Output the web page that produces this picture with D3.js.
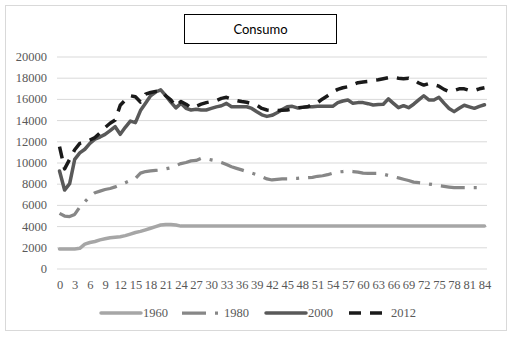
<!DOCTYPE html>
<html>
<head>
<meta charset="utf-8">
<script src="https://cdn.jsdelivr.net/npm/d3@7"></script>
<style>
  html, body { margin: 0; padding: 0; background: #fff; }
  svg { display: block; }
</style>
</head>
<body>
<svg id="chart" width="512" height="337"></svg>
<script>
// Age axis: 0..84 years
const ages = d3.range(0, 85);
const tickAges = d3.range(0, 85, 3);
const yTicks = d3.range(0, 20001, 2000);
const seriesNames = ["1960", "1980", "2000", "2012"];

const v1960 = [
  1850, 1850, 1850, 1850, 1900, 2300, 2450, 2550, 2700, 2800,
  2900, 2950, 3000, 3100, 3250, 3400, 3500, 3650, 3800, 3950,
  4100, 4150, 4150, 4100, 4000, 4000, 4000, 4000, 4000, 4000,
  4000, 4000, 4000, 4000, 4000, 4000, 4000, 4000, 4000, 4000,
  4000, 4000, 4000, 4000, 4000, 4000, 4000, 4000, 4000, 4000,
  4000, 4000, 4000, 4000, 4000, 4000, 4000, 4000, 4000, 4000,
  4000, 4000, 4000, 4000, 4000, 4000, 4000, 4000, 4000, 4000,
  4000, 4000, 4000, 4000, 4000, 4000, 4000, 4000, 4000, 4000,
  4000, 4000, 4000, 4000, 4000
];

const v1980 = [
  5200, 4950, 4900, 5100, 5800, 6300, 6800, 7150, 7300, 7450,
  7550, 7700, 7900, 8100, 8300, 8500, 9000, 9150, 9200, 9250,
  9300, 9400, 9500, 9700, 9900, 10000, 10150, 10200, 10400, 10350,
  10250, 10150, 10000, 9800, 9600, 9450, 9300, 9150, 9000, 8850,
  8650, 8450, 8350, 8400, 8450, 8450, 8500, 8500, 8550, 8570,
  8600, 8700, 8750, 8850, 9000, 9100, 9150, 9200, 9150, 9100,
  9000, 8980, 8980, 8980, 8900, 8780, 8660, 8550, 8420, 8300,
  8150, 8100, 8050, 7970, 7900, 7810, 7750, 7680, 7620, 7620,
  7620, 7620, 7620, 7620, 7620
];

const v2000 = [
  9200, 7400, 8000, 10300, 10900, 11250, 11800, 12200, 12400, 12650,
  13000, 13380, 12660, 13320, 13910, 13760, 14900, 15600, 16300, 16650,
  16850, 16300, 15700, 15150, 15580, 15110, 14950, 15020, 14950, 14950,
  15100, 15250, 15350, 15580, 15260, 15260, 15260, 15260, 15100, 14790,
  14500, 14350, 14450, 14700, 15000, 15250, 15300, 15150, 15200, 15250,
  15250, 15300, 15300, 15300, 15300, 15650, 15800, 15900, 15580, 15650,
  15650, 15550, 15420, 15480, 15500, 16000, 15580, 15170, 15360, 15170,
  15500, 15900, 16300, 15900, 15900, 16150, 15600, 15100, 14800, 15110,
  15400, 15250, 15110, 15300, 15450
];

const v2012 = [
  11500, 9400, 10300, 11200, 11800, 11900, 12120, 12350, 12800, 13300,
  13700, 14000, 15400, 15900, 16300, 16200, 15700, 16450, 16600, 16700,
  16750, 16300, 15900, 15300, 15750, 15500, 15150, 15300, 15500, 15650,
  15750, 15850, 16050, 16150, 16000, 15850, 15750, 15680, 15550, 15400,
  15100, 14950, 14900, 14900, 14920, 14950, 15050, 15150, 15200, 15250,
  15450, 15650, 16000, 16300, 16650, 16900, 17050, 17150, 17350, 17530,
  17600, 17650, 17750, 17800, 17900, 18000, 18050, 17950, 17900, 17950,
  17800, 17500, 17300, 17450, 17350, 17200, 16900, 16700, 16800, 16950,
  16950, 16800, 16800, 16950, 17050
];

const seriesValues = [v1960, v1980, v2000, v2012];

// Line styling per series
const styles = [
  { color: "#a6a6a6", width: 3.5, dash: null, cap: "round" },
  { color: "#878787", width: 3.25, dash: "24,9,3,9", cap: "butt" },
  { color: "#595959", width: 3.5, dash: null, cap: "round" },
  { color: "#1a1a1a", width: 3.5, dash: "12,9", cap: "butt" }
];

const svg = d3.select("#chart");

// Outer frame
svg.append("rect")
  .attr("x", 5.5).attr("y", 5.5)
  .attr("width", 501).attr("height", 325)
  .attr("fill", "#fff")
  .attr("stroke", "#d9d9d9");

const plot = { left: 57, right: 487, top: 56.5, bottom: 268.5 };

const x = d3.scalePoint()
  .domain(ages)
  .range([plot.left, plot.right])
  .padding(0.5);

const y = d3.scaleLinear()
  .domain([0, 20000])
  .range([plot.bottom, plot.top]);

// Horizontal gridlines
svg.append("g")
  .selectAll("line")
  .data(yTicks)
  .join("line")
  .attr("x1", plot.left).attr("x2", plot.right)
  .attr("y1", d => y(d) + 0.5).attr("y2", d => y(d) + 0.5)
  .attr("stroke", "#d9d9d9")
  .attr("stroke-width", 1);

const labelFont = "'Liberation Serif', 'Times New Roman', serif";

// Y axis labels
const yAxis = svg.append("g")
  .attr("transform", `translate(${plot.left},0)`)
  .call(d3.axisLeft(y).tickValues(yTicks).tickSize(0).tickPadding(10).tickFormat(d3.format("d")));
yAxis.select(".domain").remove();
yAxis.selectAll("text")
  .attr("fill", "#595959")
  .style("font-family", labelFont)
  .style("font-size", "12.5px");

// X axis labels
const xAxis = svg.append("g")
  .attr("transform", `translate(0,${plot.bottom})`)
  .call(d3.axisBottom(x).tickValues(tickAges).tickSize(0).tickPadding(12));
xAxis.select(".domain").remove();
xAxis.selectAll("text")
  .attr("fill", "#595959")
  .style("font-family", labelFont)
  .style("font-size", "12.5px");

// Series lines
const line = d3.line()
  .x((d, i) => x(ages[i]))
  .y(d => y(d))
  .curve(d3.curveLinear);

seriesValues.forEach((vals, k) => {
  const s = styles[k];
  svg.append("path")
    .datum(vals)
    .attr("d", line)
    .attr("fill", "none")
    .attr("stroke", s.color)
    .attr("stroke-width", s.width)
    .attr("stroke-linejoin", "round")
    .attr("stroke-linecap", s.cap)
    .attr("stroke-dasharray", s.dash);
});

// Title box
const title = svg.append("g");
title.append("rect")
  .attr("x", 184.5).attr("y", 14.5)
  .attr("width", 152).attr("height", 29)
  .attr("fill", "#fff")
  .attr("stroke", "#000")
  .attr("stroke-width", 1);
title.append("text")
  .attr("x", 260.5).attr("y", 33.5)
  .attr("text-anchor", "middle")
  .style("font-family", "Lato, 'Open Sans', sans-serif")
  .style("font-size", "13px")
  .attr("fill", "#000")
  .text("Consumo");

// Legend
const legendX = [101, 182, 266, 349];
const legendY = 313;
const legend = svg.append("g");
seriesNames.forEach((name, k) => {
  const s = styles[k];
  const x0 = legendX[k];
  legend.append("line")
    .attr("x1", x0).attr("x2", x0 + 40)
    .attr("y1", legendY).attr("y2", legendY)
    .attr("stroke", s.color)
    .attr("stroke-width", s.width)
    .attr("stroke-linecap", s.cap)
    .attr("stroke-dasharray", s.dash);
  legend.append("text")
    .attr("x", x0 + 42)
    .attr("y", legendY)
    .attr("dy", "0.35em")
    .attr("fill", "#595959")
    .style("font-family", labelFont)
    .style("font-size", "12.5px")
    .text(name);
});
</script>
</body>
</html>
